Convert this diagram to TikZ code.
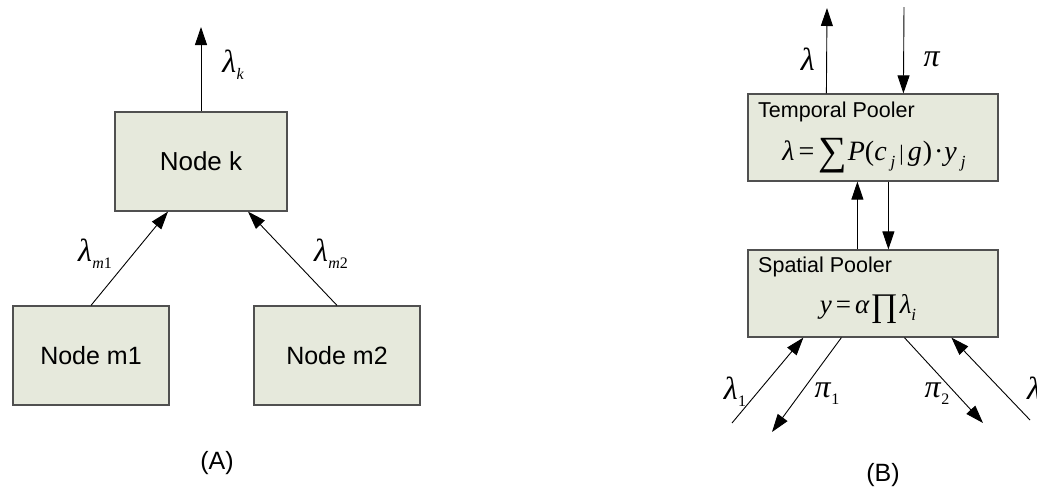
\documentclass[tikz,border=0pt]{standalone}
\usepackage{fontspec}
\setmainfont{Liberation Sans}
\newfontfamily\tnr{Liberation Serif}
\usetikzlibrary{arrows.meta}

\definecolor{boxfill}{RGB}{230,233,220}
\definecolor{boxline}{RGB}{80,80,80}

% Greek symbol with a small lowered subscript, in a Times-like serif
\newcommand{\glabel}[2]{{\tnr\itshape\fontsize{32}{32}\selectfont #1\kern0.5pt\raisebox{-7pt}{\fontsize{16}{16}\selectfont #2}}}
\newcommand{\fsub}[1]{\raisebox{-7pt}{\fontsize{17}{17}\selectfont\itshape #1}}

\tikzset{
  block/.style={draw=boxline, line width=1.2pt, fill=boxfill, inner sep=0pt},
  arr/.style={-{Triangle[length=18pt,width=12pt]}, line width=0.9pt},
  lbl/.style={inner sep=0pt},
}

\begin{document}
\begin{tikzpicture}[x=1pt,y=-1pt]
\useasboundingbox (0,0) rectangle (1037,491);
\fill[white] (0,0) rectangle (1037,491);

% ---------- (A): three nodes ----------
\node[block, minimum width=172pt, minimum height=99pt,
      font=\fontsize{26}{30}\selectfont] (k) at (201,161.5) {Node k};
\node[block, minimum width=156pt, minimum height=99pt,
      font=\fontsize{25}{30}\selectfont] (m1) at (91,355.5) {Node m1};
\node[block, minimum width=166pt, minimum height=99pt,
      font=\fontsize{25}{30}\selectfont] (m2) at (337,355.5) {Node m2};

\coordinate (kout) at (201,27);
\draw[arr] (k.north) -- (kout);
\draw[arr] (m1.north) -- ([xshift=-33pt]k.south);
\draw[arr] (m2.north) -- ([xshift=47pt]k.south);

\node[lbl] (lk)  at (233,65)  {\glabel{λ}{k}};
\node[lbl] (lm1) at (95,254)  {\glabel{λ}{m\textup{1}}};
\node[lbl] (lm2) at (331,254) {\glabel{λ}{m\textup{2}}};

\node[lbl, font=\fontsize{25}{30}\selectfont] (capA) at (217,463) {(A)};

% ---------- (B): temporal and spatial pooler ----------
\node[block, minimum width=250pt, minimum height=87pt] (tp) at (873,137.5) {};
\node[block, minimum width=250pt, minimum height=87pt] (sp) at (873,293.5) {};

\node[lbl, anchor=west, font=\fontsize{21.5}{24}\selectfont] (tpt) at (758,112) {Temporal Pooler};
\node[lbl, anchor=west, font=\fontsize{21.5}{24}\selectfont] (spt) at (758,267) {Spatial Pooler};

\node[lbl] (tpf) at (874,156) {\tnr\fontsize{28}{28}\selectfont
  \textit{λ}\kern4pt=\kern4pt\raisebox{-4pt}{\fontsize{40}{40}\selectfont ∑}\kern1pt\textit{P}(\textit{c}\kern4pt\fsub{j}\kern4pt{\fontsize{22}{22}\selectfont|}\kern4pt\textit{g}\kern1pt)\kern2pt·\kern1pt\textit{y}\kern4pt\fsub{j}};
\node[lbl] (spf) at (868,309) {\tnr\fontsize{27}{27}\selectfont
  \textit{y}\kern4pt=\kern4pt\textit{α}\kern1pt\raisebox{-3pt}{\fontsize{33}{33}\selectfont ∏}\kern2pt\textit{λ}\fsub{i}};

% signals above the temporal pooler
\coordinate (lamout) at (827,8);
\coordinate (piin) at (904,7);
\draw[arr] ([xshift=79pt]tp.north west) -- (lamout);
\draw[arr] (piin) -- ([xshift=156pt]tp.north west);
\node[lbl] (llam) at (808,63) {\glabel{λ}{}};
\node[lbl] (lpi)  at (932,63) {\glabel{π}{}};

% between the two poolers
\draw[arr] ([xshift=110pt]sp.north west) -- ([xshift=110pt]tp.south west);
\draw[arr] ([xshift=141pt]tp.south west) -- ([xshift=141pt]sp.north west);

% signals below the spatial pooler
\coordinate (l1in)  at (732,423);
\coordinate (p1out) at (772,432);
\coordinate (p2out) at (983,423);
\coordinate (l2in)  at (1030,420);
\draw[arr] (l1in) -- ([xshift=56pt]sp.south west);
\draw[arr] ([xshift=94pt]sp.south west) -- (p1out);
\draw[arr] ([xshift=157pt]sp.south west) -- (p2out);
\draw[arr] (l2in) -- ([xshift=204pt]sp.south west);

\node[lbl] (ll1) at (735,392) {\glabel{λ}{\textup{1}}};
\node[lbl] (lp1) at (827,394) {\glabel{π}{\textup{1}}};
\node[lbl] (lp2) at (937,394) {\glabel{π}{\textup{2}}};
\node[lbl, anchor=west] (ll2) at (1027,392) {\glabel{λ}{\textup{2}}};

\node[lbl, font=\fontsize{25}{30}\selectfont] (capB) at (883,475) {(B)};
\end{tikzpicture}
\end{document}
